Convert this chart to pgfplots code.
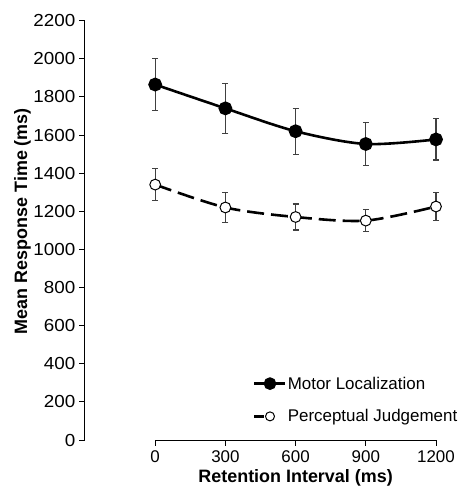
\documentclass[border=0pt]{standalone}
\usepackage{fontspec}
\setmainfont{Liberation Sans}
\newfontfamily\ticky[FakeStretch=1.08]{Liberation Sans}
\usepackage{pgfplots}
\pgfplotsset{compat=1.18}
\definecolor{ebar}{HTML}{404040}
\begin{document}
\begin{tikzpicture}
\useasboundingbox (-85bp,-55bp) rectangle (375bp,440bp);
\begin{axis}[
  at={(0,0)}, anchor=south west,
  scale only axis, width=351bp, height=419.3bp,
  xmin=-300, xmax=1200, ymin=0, ymax=2200,
  axis lines*=left, axis line style={draw=none},
  clip=false,
  xtick={0,300,...,1200}, ytick={0,200,...,2200},
  tick align=outside, major tick length=5.5bp,
  tick style={line width=1bp, black},
  /pgf/number format/assume math mode=true,
  /pgf/number format/1000 sep={},
  xticklabel style={font=\fontsize{17}{19}\selectfont, anchor=north, inner sep=0pt, yshift=-5bp},
  yticklabel style={font=\fontsize{17.5}{19}\ticky, anchor=east, inner sep=0pt, xshift=-4bp},
  xlabel={Retention Interval (ms)},
  ylabel={Mean Response Time (ms)},
  label style={font=\fontsize{18}{20}\selectfont\bfseries},
  xlabel style={at={(axis description cs:0.6,-0.1002)}, anchor=base},
  ylabel style={at={(axis description cs:-0.1652,0.522)}, anchor=base},
  legend style={draw=none, fill=none, at={(axis description cs:0.4786,0.0954)}, anchor=west,
    font=\fontsize{17}{20}\selectfont, row sep=19bp, inner sep=0pt,
    nodes={inner sep=0pt}, column sep=1bp,
    cells={anchor=west}},
]
\addplot[black, line width=2.6bp, smooth, tension=0.5,
  mark=*, mark size=5.6bp, mark options={solid, fill=black},
  legend image code/.code={
    \draw[solid, black, line width=2.6bp] (0bp,0bp) -- (31bp,0bp);
    \fill[black] (15.5bp,0bp) circle (5bp);},
  error bars/.cd, y dir=both, y explicit,
  error bar style={line width=1.1bp, ebar, solid},
  error mark options={rotate=90, mark size=3bp, line width=1.1bp, ebar, solid}]
  coordinates {
  (0,1865) +- (0,135)
  (300,1740) +- (0,131)
  (600,1620) +- (0,120)
  (900,1553) +- (0,112)
  (1200,1577) +- (0,108)
  };
\addlegendentry{Motor Localization}
\addplot[black, line width=2.6bp, smooth, tension=0.5, dash pattern=on 17bp off 7bp,
  mark=*, mark size=5.4bp, mark options={solid, fill=white, line width=1bp},
  legend image code/.code={
    \draw[solid, black, line width=2.6bp] (0bp,0bp) -- (10bp,0bp);
    \draw[solid, black, line width=1bp, fill=white] (15.5bp,0bp) circle (4.5bp);
    \path (31bp,0bp);},
  error bars/.cd, y dir=both, y explicit,
  error bar style={line width=1.1bp, ebar, solid},
  error mark options={rotate=90, mark size=3bp, line width=1.1bp, ebar, solid}]
  coordinates {
  (0,1340) +- (0,85)
  (300,1220) +- (0,80)
  (600,1170) +- (0,68)
  (900,1151) +- (0,58)
  (1200,1225) +- (0,72)
  };
\addlegendentry{Perceptual Judgement}
\draw[line width=1bp] (axis cs:-300,0) -- (axis cs:-300,2200);
\draw[line width=1bp] (axis cs:0,0) -- (axis cs:1200,0);
\end{axis}
\end{tikzpicture}
\end{document}
